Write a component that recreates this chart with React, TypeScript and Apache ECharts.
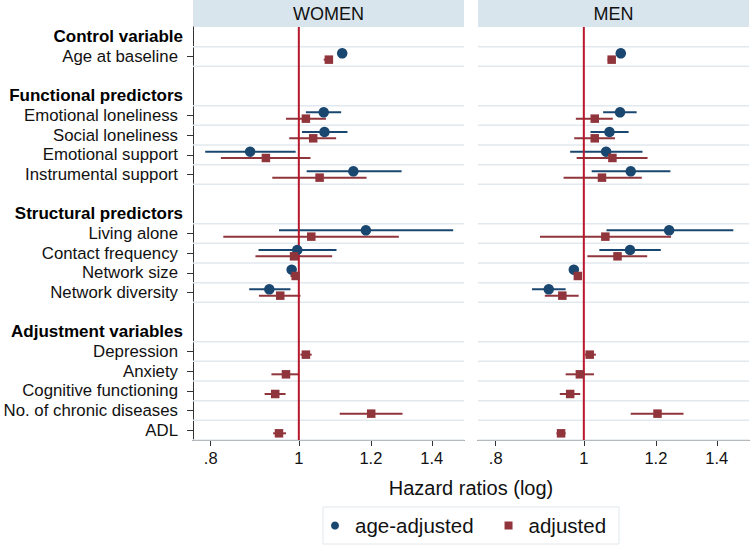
import React, { useEffect, useRef } from 'react';
import * as echarts from 'echarts';

// ---------- data ----------
const groups = ['Control variable', 'Functional predictors', 'Structural predictors', 'Adjustment variables'];
const groupVariables = [
  ['Age at baseline'],
  ['Emotional loneliness', 'Social loneliness', 'Emotional support', 'Instrumental support'],
  ['Living alone', 'Contact frequency', 'Network size', 'Network diversity'],
  ['Depression', 'Anxiety', 'Cognitive functioning', 'No. of chronic diseases', 'ADL'],
];
const panels = ['WOMEN', 'MEN'];
const seriesNames = ['age-adjusted', 'adjusted'];
const xTicks = [0.8, 1, 1.2, 1.4];
const xTickLabels = ['.8', '1', '1.2', '1.4'];
const xRange = [0.765, 1.519];
const axisTitle = 'Hazard ratios (log)';

// WOMEN, age-adjusted (variables in order; null = not estimated)
const womenAgeAdj = [1.116, 1.065, 1.067, 0.884, 1.148, 1.185, 0.996, 0.982, 0.928, null, null, null, null, null];
const womenAgeAdjLo = [1.108, 1.018, 1.008, 0.789, 1.02, 0.951, 0.903, 0.975, 0.882, null, null, null, null, null];
const womenAgeAdjHi = [1.125, 1.113, 1.131, 0.992, 1.297, 1.478, 1.1, 0.989, 0.979, null, null, null, null, null];
// WOMEN, adjusted
const womenAdj = [1.079, 1.018, 1.037, 0.92, 1.054, 1.032, 0.988, 0.992, 0.954, 1.018, 0.968, 0.942, 1.201, 0.951];
const womenAdjLo = [1.065, 0.968, 0.976, 0.821, 0.935, 0.826, 0.896, 0.979, 0.904, 1.004, 0.933, 0.917, 1.109, 0.937];
const womenAdjHi = [1.09, 1.071, 1.099, 1.03, 1.187, 1.288, 1.088, 1.003, 1.004, 1.033, 1.001, 0.967, 1.3, 0.968];
// MEN, age-adjusted
const menAgeAdj = [1.098, 1.096, 1.067, 1.058, 1.126, 1.241, 1.124, 0.975, 0.915, null, null, null, null, null];
const menAgeAdjLo = [1.09, 1.05, 1.017, 0.966, 1.02, 1.059, 1.04, 0.97, 0.877, null, null, null, null, null];
const menAgeAdjHi = [1.106, 1.143, 1.12, 1.16, 1.245, 1.46, 1.215, 0.98, 0.955, null, null, null, null, null];
// MEN, adjusted
const menAdj = [1.073, 1.028, 1.028, 1.075, 1.047, 1.056, 1.089, 0.985, 0.947, 1.015, 0.99, 0.966, 1.205, 0.944];
const menAdjLo = [1.062, 0.98, 0.976, 0.982, 0.95, 0.895, 1.009, 0.98, 0.906, 1.003, 0.955, 0.941, 1.126, 0.933];
const menAdjHi = [1.084, 1.076, 1.082, 1.175, 1.158, 1.247, 1.174, 0.99, 0.987, 1.031, 1.026, 0.991, 1.287, 0.955];

const panelData = [
  { est: [womenAgeAdj, womenAdj], lo: [womenAgeAdjLo, womenAdjLo], hi: [womenAgeAdjHi, womenAdjHi] },
  { est: [menAgeAdj, menAdj], lo: [menAgeAdjLo, menAdjLo], hi: [menAgeAdjHi, menAdjHi] },
];

// ---------- layout of rows ----------
const rowLabels: string[] = [];
const headerRows: number[] = [];
const varRows: number[] = [];
groups.forEach((g, gi) => {
  headerRows.push(rowLabels.length);
  rowLabels.push(g);
  groupVariables[gi].forEach((v) => {
    varRows.push(rowLabels.length);
    rowLabels.push(v);
  });
  if (gi < groups.length - 1) rowLabels.push('');
});
const gridBounds = Array.from(new Set(varRows.flatMap((r) => [r - 0.5, r + 0.5])));

const FONT = 'Liberation Sans, Arial, sans-serif';
const BLUE = '#1a476f';
const RED = '#90353b';
const REF = '#b8182c';
const GRIDLINE = '#e2e9ee';
const STRIP = '#d9e5ec';
const offsets = [-0.16, 0.16];
const colors = [BLUE, RED];

const GRID_TOP = 27;
const GRID_H = 413;
const GRID_W = 271;
const gridLefts = [193, 478];

const lineItem = (color: string, width: number) => (params: any, api: any) => {
  const y = api.value(2);
  const a = api.coord([api.value(0), y]);
  const b = api.coord([api.value(1), y]);
  return {
    type: 'line',
    shape: { x1: a[0], y1: a[1], x2: b[0], y2: b[1] },
    style: { stroke: color, lineWidth: width },
  };
};

export default function App() {
  const ref = useRef<HTMLDivElement>(null);

  useEffect(() => {
    if (!ref.current) return;
    const chart = echarts.init(ref.current, undefined, { renderer: 'svg' });
    const lnMin = Math.log(xRange[0]);
    const lnMax = Math.log(xRange[1]);
    const yMin = -0.5;
    const yMax = rowLabels.length - 0.5;

    const grids = gridLefts.map((left) => ({
      left,
      top: GRID_TOP,
      width: GRID_W,
      height: GRID_H,
      containLabel: false,
      outerBoundsMode: 'none',
    }));

    const xAxes = panels.map((_, pi) => ({
      type: 'value',
      gridIndex: pi,
      min: lnMin,
      max: lnMax,
      position: 'bottom',
      axisLine: { show: true, onZero: false, lineStyle: { color: '#333', width: 1 } },
      axisTick: {
        show: true,
        length: 6,
        customValues: xTicks.map((t) => Math.log(t)),
        lineStyle: { color: '#333' },
      },
      axisLabel: {
        show: true,
        customValues: xTicks.map((t) => Math.log(t)),
        formatter: (v: number) => {
          const idx = xTicks.findIndex((t) => Math.abs(Math.log(t) - v) < 1e-6);
          return idx >= 0 ? xTickLabels[idx] : '';
        },
        fontSize: 16.5,
        fontFamily: FONT,
        color: '#111',
        margin: 9,
      },
      splitLine: { show: false },
    }));

    const yAxes = panels.map((_, pi) => ({
      type: 'value',
      gridIndex: pi,
      min: yMin,
      max: yMax,
      inverse: true,
      position: 'left',
      axisLine: { show: pi === 0, onZero: false, lineStyle: { color: '#333', width: 1 } },
      axisTick: {
        show: pi === 0,
        length: 6,
        customValues: varRows,
        lineStyle: { color: '#333' },
      },
      axisLabel: {
        show: pi === 0,
        customValues: [...headerRows, ...varRows],
        margin: 10,
        formatter: (v: number) => {
          const i = Math.round(v);
          return headerRows.includes(i) ? `{h|${rowLabels[i]}}` : `{v|${rowLabels[i]}}`;
        },
        rich: {
          h: { fontWeight: 'bold', fontSize: 17, color: '#000', fontFamily: FONT },
          v: { fontSize: 16.8, color: '#111', fontFamily: FONT, padding: [0, 5, 0, 0] },
        },
      },
      splitLine: { show: false },
    }));

    const series: any[] = [];
    panels.forEach((_, pi) => {
      // gridlines
      series.push({
        type: 'custom',
        xAxisIndex: pi,
        yAxisIndex: pi,
        silent: true,
        clip: false,
        z: 1,
        renderItem: lineItem(GRIDLINE, 1.5),
        encode: { x: [0, 1], y: 2 },
        data: gridBounds.map((b) => [lnMin, lnMax, b]),
      });
      // reference line at HR = 1
      series.push({
        type: 'custom',
        xAxisIndex: pi,
        yAxisIndex: pi,
        silent: true,
        z: 3,
        renderItem: (params: any, api: any) => {
          const x = api.value(0);
          const a = api.coord([x, api.value(1)]);
          const b = api.coord([x, api.value(2)]);
          return {
            type: 'line',
            shape: { x1: a[0], y1: a[1], x2: b[0], y2: b[1] },
            style: { stroke: REF, lineWidth: 2 },
          };
        },
        encode: { x: 0, y: [1, 2] },
        data: [[Math.log(1), yMin, yMax]],
      });
      const d = panelData[pi];
      [0, 1].forEach((si) => {
        const ci: number[][] = [];
        const pts: number[][] = [];
        d.est[si].forEach((e, k) => {
          if (e == null) return;
          const y = varRows[k] + offsets[si];
          pts.push([Math.log(e), y]);
          const lo = d.lo[si][k];
          const hi = d.hi[si][k];
          if (lo != null && hi != null) ci.push([Math.log(lo), Math.log(hi), y]);
        });
        series.push({
          type: 'custom',
          xAxisIndex: pi,
          yAxisIndex: pi,
          silent: true,
          z: 2,
          renderItem: lineItem(colors[si], 2),
          encode: { x: [0, 1], y: 2 },
          data: ci,
        });
        series.push({
          type: 'scatter',
          name: seriesNames[si],
          xAxisIndex: pi,
          yAxisIndex: pi,
          z: 4,
          symbol: si === 0 ? 'circle' : 'rect',
          symbolSize: si === 0 ? 10.5 : 8.5,
          itemStyle: { color: colors[si], opacity: 1 },
          data: pts,
        });
      });
    });

    const graphics: any[] = [];
    panels.forEach((p, pi) => {
      graphics.push({
        type: 'rect',
        shape: { x: gridLefts[pi], y: 0, width: GRID_W, height: GRID_TOP },
        style: { fill: STRIP },
        silent: true,
      });
      graphics.push({
        type: 'text',
        x: gridLefts[pi] + GRID_W / 2,
        y: GRID_TOP / 2,
        style: {
          text: p,
          fontSize: 18,
          fontFamily: FONT,
          fill: '#111',
          align: 'center',
          verticalAlign: 'middle',
        },
        silent: true,
      });
    });
    graphics.push({
      type: 'text',
      x: 471,
      y: 488,
      style: {
        text: axisTitle,
        fontSize: 20,
        fontFamily: FONT,
        fill: '#111',
        align: 'center',
        verticalAlign: 'middle',
      },
      silent: true,
    });

    chart.setOption({
      animation: false,
      backgroundColor: '#ffffff',
      grid: grids,
      xAxis: xAxes,
      yAxis: yAxes,
      series,
      graphic: graphics,
      legend: {
        left: 323,
        top: 507,
        orient: 'horizontal',
        padding: [8, 13, 8, 8],
        itemWidth: 18,
        itemHeight: 8,
        itemGap: 31,
        borderColor: '#e0e8ed',
        borderWidth: 1,
        selectedMode: false,
        data: [
          { name: seriesNames[0], icon: 'circle' },
          { name: seriesNames[1], icon: 'path://M0 0H10V10H0Z' },
        ],
        textStyle: { fontSize: 20.5, fontFamily: FONT, color: '#111', padding: [0, 0, 0, 6] },
      },
    });
    return () => chart.dispose();
  }, []);

  return (
    <div
      ref={ref}
      style={{ position: 'absolute', left: 0, top: 0, width: 750, height: 547, background: '#fff' }}
    />
  );
}
